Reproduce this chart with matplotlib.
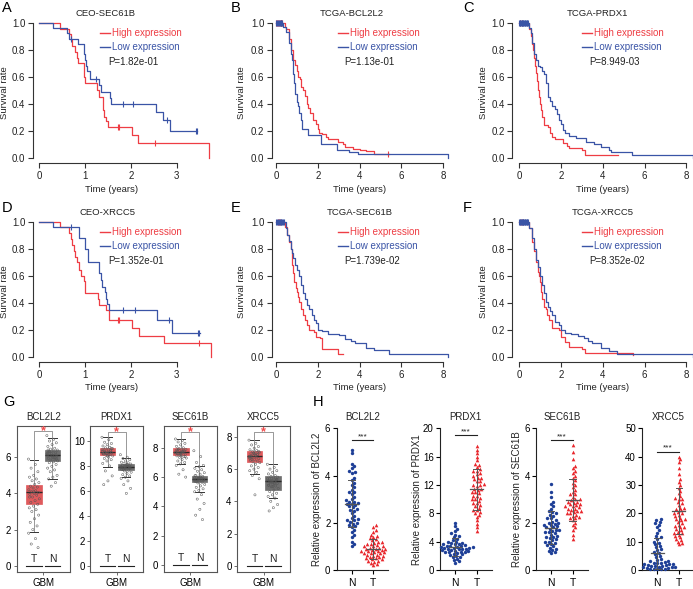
import numpy as np
import matplotlib.pyplot as plt
from matplotlib.lines import Line2D

W, H = 693, 589
plt.rcParams['font.family'] = ['Liberation Sans', 'DejaVu Sans']
plt.rcParams['axes.linewidth'] = 0.8

RED = '#ee3d44'
BLUE = '#3a54a6'
DARK = '#333333'

# ---------------- Kaplan-Meier curves (step times / survival) ----------------
start_cens = [0.02, 0.06, 0.1, 0.14, 0.18, 0.22, 0.26, 0.3]
block_cens = [0.0, 0.03, 0.06, 0.09, 0.12, 0.15, 0.18, 0.21, 0.24, 0.27, 0.3, 0.33, 0.36, 0.39, 0.42]

a_hi_t = [0, 0.45, 0.65, 0.70, 0.72, 0.78, 0.83, 0.85, 0.97, 0.98, 1.0, 1.25, 1.3, 1.38, 1.4, 1.42, 1.45, 1.5, 2.02, 2.15, 3.7]
a_hi_s = [1.0, 0.957, 0.913, 0.87, 0.826, 0.78, 0.74, 0.70, 0.65, 0.60, 0.55, 0.50, 0.45, 0.40, 0.35, 0.30, 0.27, 0.225, 0.165, 0.11, 0.0]
a_hi_c = [1.72, 1.75, 2.53]
a_lo_t = [0, 0.3, 0.6, 0.65, 0.85, 0.97, 1.0, 1.03, 1.05, 1.1, 1.3, 1.35, 1.55, 1.57, 2.55, 2.7, 2.85, 3.45]
a_lo_s = [1.0, 0.96, 0.92, 0.88, 0.84, 0.77, 0.72, 0.68, 0.64, 0.58, 0.535, 0.49, 0.44, 0.395, 0.34, 0.28, 0.2, 0.2]
a_lo_c = [0.7, 1.23, 1.82, 2.05, 2.78, 3.42, 3.45]

d_hi_t = [0, 0.45, 0.65, 0.7, 0.72, 0.75, 0.78, 0.82, 0.87, 0.9, 0.97, 1.0, 1.28, 1.3, 1.45, 1.52, 2.02, 2.18, 2.72, 3.75]
d_hi_s = [1.0, 0.96, 0.92, 0.87, 0.83, 0.78, 0.74, 0.70, 0.64, 0.60, 0.56, 0.47, 0.43, 0.38, 0.345, 0.27, 0.21, 0.153, 0.1, 0.0]
d_hi_c = [1.72, 1.75, 3.48]
d_lo_t = [0, 0.3, 0.87, 1.0, 1.07, 1.3, 1.35, 1.37, 1.43, 1.45, 1.47, 1.52, 2.57, 2.9, 3.5]
d_lo_s = [1.0, 0.96, 0.88, 0.80, 0.70, 0.617, 0.57, 0.52, 0.48, 0.43, 0.39, 0.345, 0.275, 0.173, 0.173]
d_lo_c = [0.7, 1.83, 2.08, 2.83, 3.47, 3.49]

b_hi_t = [0, 0.45, 0.5, 0.6, 0.7, 0.8, 0.9, 1.0, 1.05, 1.15, 1.2, 1.3, 1.4, 1.5, 1.55, 1.65, 1.75, 1.9, 2.0, 2.05, 2.2,
          2.4, 2.5, 2.95, 3.2, 3.3, 3.7, 4.0, 4.3, 4.7, 4.75, 5.4]
b_hi_s = [1.0, 0.97, 0.95, 0.88, 0.80, 0.72, 0.686, 0.64, 0.60, 0.58, 0.52, 0.50, 0.46, 0.40, 0.37, 0.33, 0.28, 0.25,
          0.21, 0.18, 0.175, 0.155, 0.14, 0.12, 0.10, 0.08, 0.065, 0.055, 0.05, 0.03, 0.025, 0.025]
b_hi_c = start_cens + [5.37]
b_lo_t = [0, 0.35, 0.5, 0.6, 0.7, 0.75, 0.8, 0.85, 0.9, 1.0, 1.05, 1.1, 1.2, 1.25, 1.55, 2.15, 2.9, 3.5, 3.9, 8.25]
b_lo_s = [1.0, 0.97, 0.93, 0.85, 0.77, 0.72, 0.62, 0.55, 0.47, 0.415, 0.38, 0.33, 0.28, 0.21, 0.17, 0.10, 0.06, 0.045,
          0.025, 0.0]
b_lo_c = start_cens

c_hi_t = [0, 0.5, 0.55, 0.6, 0.65, 0.7, 0.75, 0.8, 0.85, 0.9, 0.95, 1.0, 1.05, 1.1, 1.2, 1.4, 1.5, 1.6, 1.7, 2.1, 2.3,
          2.4, 3.0, 3.15, 4.75]
c_hi_s = [1.0, 0.95, 0.90, 0.84, 0.80, 0.74, 0.68, 0.63, 0.57, 0.50, 0.45, 0.40, 0.35, 0.30, 0.24, 0.225, 0.18, 0.15,
          0.135, 0.11, 0.09, 0.074, 0.057, 0.017, 0.017]
c_hi_c = [0.05, 0.15]
c_lo_t = [0, 0.5, 0.55, 0.6, 0.7, 0.8, 0.9, 1.0, 1.1, 1.2, 1.3, 1.4, 1.5, 1.6, 1.7, 1.8, 1.9, 2.0, 2.1, 2.2, 2.4, 2.7,
          3.2, 3.6, 3.9, 4.3, 4.4, 5.4, 8.3]
c_lo_s = [1.0, 0.96, 0.92, 0.85, 0.77, 0.72, 0.68, 0.67, 0.64, 0.62, 0.55, 0.45, 0.42, 0.38, 0.36, 0.32, 0.28, 0.25,
          0.205, 0.18, 0.16, 0.148, 0.12, 0.10, 0.08, 0.06, 0.044, 0.02, 0.0]
c_lo_c = block_cens

e_hi_t = [0, 0.45, 0.55, 0.6, 0.7, 0.75, 0.8, 0.85, 0.95, 1.0, 1.05, 1.1, 1.2, 1.3, 1.4, 1.5, 1.6, 1.8, 1.9, 2.1, 2.2,
          2.95, 3.2]
e_hi_s = [1.0, 0.96, 0.90, 0.85, 0.80, 0.68, 0.62, 0.555, 0.51, 0.48, 0.44, 0.407, 0.35, 0.31, 0.27, 0.235, 0.20,
          0.18, 0.148, 0.136, 0.054, 0.02, 0.02]
e_hi_c = [0.1, 0.15, 0.2]
e_lo_t = [0, 0.5, 0.55, 0.6, 0.7, 0.75, 0.8, 0.9, 1.0, 1.1, 1.2, 1.3, 1.4, 1.5, 1.6, 1.7, 1.8, 1.9, 2.0, 2.2, 2.5, 3.0,
          3.3, 3.6, 3.8, 4.3, 4.7, 5.4, 8.25]
e_lo_s = [1.0, 0.95, 0.90, 0.86, 0.80, 0.77, 0.73, 0.68, 0.642, 0.60, 0.53, 0.47, 0.43, 0.383, 0.35, 0.31, 0.27, 0.247,
          0.20, 0.19, 0.17, 0.16, 0.13, 0.12, 0.10, 0.062, 0.05, 0.02, 0.0]
e_lo_c = start_cens + [0.34, 0.38]

f_hi_t = [0, 0.5, 0.6, 0.7, 0.8, 0.9, 0.95, 1.0, 1.05, 1.1, 1.2, 1.3, 1.35, 1.45, 1.6, 1.9, 2.0, 2.2, 2.4, 3.0, 3.15, 5.45]
f_hi_s = [1.0, 0.95, 0.85, 0.78, 0.70, 0.63, 0.60, 0.555, 0.48, 0.43, 0.37, 0.35, 0.31, 0.27, 0.21, 0.197, 0.148, 0.11,
          0.074, 0.054, 0.025, 0.015]
f_hi_c = [0.1, 0.2]
f_lo_t = [0, 0.5, 0.6, 0.7, 0.8, 0.9, 1.0, 1.1, 1.2, 1.3, 1.4, 1.5, 1.6, 1.7, 1.9, 2.0, 2.2, 2.5, 2.8, 3.1, 3.3, 3.5,
          3.9, 4.3, 4.7, 8.3]
f_lo_s = [1.0, 0.95, 0.88, 0.80, 0.716, 0.667, 0.60, 0.53, 0.47, 0.407, 0.37, 0.34, 0.31, 0.26, 0.235, 0.2, 0.178,
          0.165, 0.153, 0.136, 0.12, 0.1, 0.062, 0.042, 0.02, 0.0]
f_lo_c = block_cens

km_titles = ['CEO-SEC61B', 'TCGA-BCL2L2', 'TCGA-PRDX1', 'CEO-XRCC5', 'TCGA-SEC61B', 'TCGA-XRCC5']
km_pvals = ['P=1.82e-01', 'P=1.13e-01', 'P=8.949-03', 'P=1.352e-01', 'P=1.739e-02', 'P=8.352e-02']

# ---------------- GEPIA box plots (G) ----------------
g_genes = ['BCL2L2', 'PRDX1', 'SEC61B', 'XRCC5']
# whislo, q1, med, q3, whishi
g_t_stats = [[1.89, 3.43, 4.06, 4.48, 5.83], [7.94, 8.88, 9.14, 9.41, 10.3],
             [6.87, 7.51, 7.69, 7.96, 8.6], [5.72, 6.45, 6.82, 7.13, 7.79]]
g_n_stats = [[4.8, 5.78, 6.1, 6.39, 7.04], [7.09, 7.67, 7.94, 8.13, 8.66],
             [5.0, 5.69, 5.85, 6.1, 6.76], [4.19, 4.69, 5.27, 5.58, 6.3]]
g_bracket = [7.44, 10.7, 9.1, 8.3]
g_yticks = [[0, 2, 4, 6], [0, 2, 4, 6, 8, 10], [0, 2, 4, 6, 8], [0, 2, 4, 6, 8]]

g_bcl_t = [5.9, 5.6, 5.4, 5.2, 5.0, 4.9, 4.8, 4.7, 4.6, 4.5, 4.4, 4.35, 4.3, 4.2, 4.15, 4.1, 4.05, 4.0, 3.95, 3.9,
           3.8, 3.7, 3.6, 3.5, 3.4, 3.3, 3.2, 3.1, 3.0, 2.8, 2.6, 2.4, 2.2, 2.0, 1.8, 1.5, 1.2, 1.0, 4.1, 3.8]
g_bcl_n = [7.2, 7.0, 6.9, 6.8, 6.7, 6.6, 6.5, 6.45, 6.4, 6.35, 6.3, 6.25, 6.2, 6.15, 6.1, 6.1, 6.05, 6.0, 5.95, 5.9,
           5.85, 5.8, 5.75, 5.7, 5.6, 5.5, 5.4, 5.3, 5.2, 5.0, 4.9, 4.8, 4.6, 4.4, 6.2, 6.0, 6.3, 5.9, 6.1, 6.4]
g_prdx_t = [10.3, 10.1, 9.9, 9.8, 9.7, 9.6, 9.5, 9.45, 9.4, 9.35, 9.3, 9.25, 9.2, 9.15, 9.1, 9.1, 9.05, 9.0, 8.95, 8.9,
            8.85, 8.8, 8.7, 8.6, 8.5, 8.4, 8.2, 8.0, 7.6, 7.2, 6.8, 6.5, 9.2, 9.0, 9.3, 8.9, 9.1, 9.4, 8.8, 9.0]
g_prdx_n = [8.9, 8.7, 8.6, 8.5, 8.4, 8.3, 8.25, 8.2, 8.15, 8.1, 8.05, 8.0, 7.95, 7.9, 7.9, 7.85, 7.8, 7.75, 7.7, 7.65,
            7.6, 7.5, 7.4, 7.3, 7.2, 7.1, 7.0, 6.8, 6.5, 6.2, 5.8, 7.9, 8.0, 7.8, 7.95, 8.1, 7.7, 7.85, 8.05, 7.9]
g_sec_t = [8.6, 8.5, 8.4, 8.3, 8.2, 8.1, 8.0, 7.95, 7.9, 7.85, 7.8, 7.75, 7.7, 7.7, 7.65, 7.6, 7.55, 7.5, 7.45, 7.4,
           7.35, 7.3, 7.2, 7.1, 7.0, 6.9, 6.8, 6.5, 6.2, 6.0, 7.7, 7.6, 7.8, 7.5, 7.65, 7.75, 7.9, 7.4, 7.55, 7.85]
g_sec_n = [7.8, 7.4, 7.0, 6.8, 6.7, 6.6, 6.5, 6.4, 6.3, 6.2, 6.1, 6.05, 6.0, 5.95, 5.9, 5.85, 5.8, 5.75, 5.7, 5.65,
           5.6, 5.5, 5.4, 5.3, 5.2, 5.1, 5.0, 4.8, 4.5, 4.2, 3.8, 3.4, 3.1, 5.9, 5.8, 6.0, 5.7, 5.85, 5.95, 6.1]
g_xrc_t = [7.8, 7.6, 7.5, 7.4, 7.3, 7.2, 7.15, 7.1, 7.05, 7.0, 6.95, 6.9, 6.85, 6.8, 6.75, 6.7, 6.65, 6.6, 6.55, 6.5,
           6.45, 6.4, 6.3, 6.2, 6.1, 6.0, 5.9, 5.8, 5.6, 5.4, 4.4, 6.8, 6.9, 7.0, 6.7, 6.85, 6.6, 7.1, 6.95, 6.75]
g_xrc_n = [6.3, 6.1, 6.0, 5.9, 5.8, 5.7, 5.6, 5.55, 5.5, 5.45, 5.4, 5.35, 5.3, 5.25, 5.2, 5.15, 5.1, 5.05, 5.0, 4.95,
           4.9, 4.8, 4.7, 4.6, 4.5, 4.4, 4.3, 4.2, 4.0, 3.8, 3.6, 3.4, 5.3, 5.2, 5.4, 5.1, 5.25, 5.35, 4.9, 5.0]

# ---------------- qPCR scatter (H) ----------------
h_genes = ['BCL2L2', 'PRDX1', 'SEC61B', 'XRCC5']
h_bcl_n = [5.1, 4.95, 4.5, 4.4, 4.3, 4.2, 4.15, 4.1, 3.9, 3.8, 3.7, 3.6, 3.5, 3.4, 3.3, 3.2, 3.1, 3.0, 2.95, 2.9,
           2.85, 2.8, 2.75, 2.7, 2.65, 2.6, 2.55, 2.5, 2.4, 2.3, 2.2, 2.15, 2.1, 2.05, 2.0, 1.95, 1.9, 1.85, 1.8, 1.7,
           1.6, 1.5, 1.4, 1.2, 1.1, 1.0, 2.9, 2.8, 2.1, 3.3]
h_bcl_t = [1.9, 1.8, 1.7, 1.6, 1.5, 1.45, 1.4, 1.35, 1.3, 1.25, 1.2, 1.15, 1.1, 1.05, 1.0, 1.0, 0.95, 0.95, 0.9, 0.9,
           0.85, 0.85, 0.8, 0.8, 0.75, 0.75, 0.7, 0.7, 0.65, 0.65, 0.6, 0.6, 0.55, 0.55, 0.5, 0.5, 0.45, 0.45, 0.4,
           0.4, 0.35, 0.3, 0.25, 0.2, 1.1, 1.2, 0.9, 1.0, 0.8, 0.7]
h_prdx_n = [6.7, 6.2, 5.8, 5.5, 5.2, 5.0, 4.8, 4.6, 4.4, 4.2, 4.0, 3.9, 3.8, 3.7, 3.6, 3.5, 3.4, 3.35, 3.3, 3.2, 3.1,
            3.05, 3.0, 2.95, 2.9, 2.8, 2.7, 2.65, 2.6, 2.5, 2.4, 2.3, 2.2, 2.1, 2.0, 1.9, 1.8, 1.6, 1.4, 1.2, 1.0, 3.0,
            3.2, 3.4, 2.8, 2.6, 3.6, 3.8, 2.5, 3.1]
h_prdx_t = [17.5, 17.0, 16.5, 16.0, 15.5, 15.0, 14.8, 14.5, 14.2, 14.0, 13.7, 13.5, 13.2, 13.0, 12.8, 12.5, 12.2, 12.0,
            11.8, 11.5, 11.3, 11.0, 10.8, 10.5, 10.2, 10.0, 9.8, 9.5, 9.2, 9.0, 8.8, 8.5, 8.2, 8.0, 7.8, 7.5, 7.0, 6.5,
            6.0, 5.5, 11.5, 12.0, 10.5, 11.0, 13.0, 9.5, 14.0, 8.5, 12.5, 10.0]
h_sec_n = [3.65, 3.3, 3.1, 2.9, 2.8, 2.7, 2.6, 2.5, 2.45, 2.4, 2.35, 2.3, 2.2, 2.1, 2.05, 2.0, 1.95, 1.9, 1.85, 1.8,
           1.75, 1.7, 1.65, 1.6, 1.55, 1.5, 1.45, 1.4, 1.35, 1.3, 1.25, 1.2, 1.15, 1.1, 1.05, 1.0, 0.95, 0.9, 0.85, 0.8,
           0.75, 0.7, 1.8, 1.6, 1.9, 2.2, 1.4, 1.2, 2.0, 1.7]
h_sec_t = [5.3, 5.0, 4.7, 4.4, 4.3, 4.2, 4.1, 4.0, 3.9, 3.8, 3.7, 3.6, 3.5, 3.4, 3.3, 3.2, 3.1, 3.0, 2.95, 2.9, 2.85,
           2.8, 2.75, 2.7, 2.65, 2.6, 2.55, 2.5, 2.45, 2.4, 2.35, 2.3, 2.25, 2.2, 2.1, 2.0, 1.9, 1.8, 1.7, 1.5, 1.3, 2.8,
           3.0, 2.6, 2.4, 3.2, 2.2, 2.7, 2.9, 2.5]
h_xrc_n = [18, 17.5, 17, 16.5, 16, 15, 14, 13, 12, 11.5, 11, 10, 9.5, 9, 8.5, 8, 7.5, 7, 6.5, 6, 5.5, 5, 4.5, 4, 3.5,
           3, 2.8, 2.5, 2.3, 2.1, 2.0, 1.8, 1.6, 1.5, 1.4, 1.2, 1.0, 0.9, 0.8, 0.6, 0.5, 0.4, 0.3, 0.2, 2.5, 1.5, 1.0,
           3.0, 2.0, 0.5]
h_xrc_t = [40, 39, 38, 36, 34, 32, 31, 30, 29, 28, 27, 26, 25.5, 25, 24, 23.5, 23, 22, 21.5, 21, 20.5, 20, 19.5, 19,
           18.5, 18, 17.5, 17, 16.5, 16, 15.5, 15, 14.5, 14, 13.5, 13, 12.5, 12, 11.5, 11, 10.5, 10, 9.5, 9, 20, 22, 18,
           15, 25, 13]
h_ytops = [6, 20, 6, 50]
h_yticks = [[0, 2, 4, 6], [0, 4, 8, 12, 16, 20], [0, 2, 4, 6], [0, 10, 20, 30, 40, 50]]
h_sig = [5.5, 19.0, 5.5, 41.8]

fig = plt.figure(figsize=(W / 100, H / 100), dpi=100)


def px_axes(left, top, right, bottom):
    return fig.add_axes([left / W, 1 - bottom / H, (right - left) / W, (bottom - top) / H])


def ftext(x, y, s, **kw):
    return fig.text(x / W, 1 - y / H, s, **kw)


def fline(x1, x2, y, color):
    fig.add_artist(Line2D([x1 / W, x2 / W], [1 - y / H] * 2, color=color, lw=1.0))


def surv_at(t, s, times):
    idx = np.searchsorted(np.asarray(t), np.asarray(times), side='right') - 1
    return np.asarray(s)[idx]


# ---- KM panels ----
curves = [((a_hi_t, a_hi_s, a_hi_c), (a_lo_t, a_lo_s, a_lo_c)),
          ((b_hi_t, b_hi_s, b_hi_c), (b_lo_t, b_lo_s, b_lo_c)),
          ((c_hi_t, c_hi_s, c_hi_c), (c_lo_t, c_lo_s, c_lo_c)),
          ((d_hi_t, d_hi_s, d_hi_c), (d_lo_t, d_lo_s, d_lo_c)),
          ((e_hi_t, e_hi_s, e_hi_c), (e_lo_t, e_lo_s, e_lo_c)),
          ((f_hi_t, f_hi_s, f_hi_c), (f_lo_t, f_lo_s, f_lo_c))]
# column layout: x of t=0, px per year, left, right, title x, legend x, p x, ylabel x, xlabel x, letter x
cols = [dict(x0=39.3, sc=45.8, left=33, right=215.6, xt=[0, 1, 2, 3], tx=[105, 107], lx=100, px=108, yl=5, xl=112, L=2),
        dict(x0=276, sc=20.9, left=272, right=451.6, xt=[0, 2, 4, 6, 8], tx=[352, 360], lx=338, px=344, yl=242, xl=360, L=231),
        dict(x0=519, sc=20.93, left=512.3, right=692.7, xt=[0, 2, 4, 6, 8], tx=[597, 603], lx=582, px=589, yl=483, xl=603, L=463)]
rows = [dict(y1=22.7, y0=157.7, ty=13, ly=33, py=62, xly=190, Ly=8),
        dict(y1=221.7, y0=356.7, ty=212, ly=232, py=261, xly=388, Ly=208)]
letters = ['A', 'B', 'C', 'D', 'E', 'F']

for k in range(6):
    c = cols[k % 3]
    r = rows[k // 3]
    ysc = r['y0'] - r['y1']
    ax = px_axes(c['left'], r['y1'] - 0.04 * ysc, c['right'], r['y0'] + 0.04 * ysc)
    ax.set_xlim((c['left'] - c['x0']) / c['sc'], (c['right'] - c['x0']) / c['sc'])
    ax.set_ylim(-0.04, 1.04)
    for (t, s, cen), col in zip(curves[k], [RED, BLUE]):
        ax.step(t, s, where='post', color=col, lw=0.9, clip_on=False)
        ax.plot(cen, surv_at(t, s, cen), ls='none', marker='|', ms=4.5, mew=0.8, color=col, clip_on=False)
    for sp in ['top', 'right']:
        ax.spines[sp].set_visible(False)
    ax.spines['left'].set_bounds(0, 1)
    ax.spines['bottom'].set_bounds(c['xt'][0], c['xt'][-1])
    for sp in ['left', 'bottom']:
        ax.spines[sp].set_color(DARK)
    ax.set_xticks(c['xt'])
    ax.set_yticks([0, 0.2, 0.4, 0.6, 0.8, 1.0])
    ax.set_yticklabels(['0.0', '0.2', '0.4', '0.6', '0.8', '1.0'])
    ax.tick_params(labelsize=7, length=3.5, width=0.8, color=DARK, labelcolor='#222222', pad=2)
    ftext(c['tx'][k // 3], r['ty'], km_titles[k], fontsize=6.8, ha='center', va='center', color='#222222')
    fline(c['lx'], c['lx'] + 9.5, r['ly'], RED)
    fline(c['lx'], c['lx'] + 9.5, r['ly'] + 14, BLUE)
    ftext(c['lx'] + 12.5, r['ly'], 'High expression', fontsize=7, color=RED, ha='left', va='center')
    ftext(c['lx'] + 12.5, r['ly'] + 14, 'Low expression', fontsize=7, color=BLUE, ha='left', va='center')
    ftext(c['px'], r['py'], km_pvals[k], fontsize=7, color='#222222', ha='left', va='center')
    ftext(c['yl'], (r['y0'] + r['y1']) / 2 + 2, 'Survival rate', fontsize=6.8, rotation=90, ha='center',
          va='center', color='#222222')
    ftext(c['xl'], r['xly'], 'Time (years)', fontsize=6.8, ha='center', va='center', color='#222222')
    ftext(c['L'], r['Ly'], letters[k], fontsize=10.5, ha='left', va='center')

# ---- G: box plots ----
g_points = [(g_bcl_t, g_bcl_n), (g_prdx_t, g_prdx_n), (g_sec_t, g_sec_n), (g_xrc_t, g_xrc_n)]
g_zero_px = [565.7, 565.7, 565.0, 565.7]
g_unit_px = [18.07, 12.47, 14.65, 16.1]
G_TOP, G_BOT = 426, 571.7
for i in range(4):
    left = 16.7 + 73.5 * i
    right = left + 53
    ax = px_axes(left, G_TOP, right, G_BOT)
    ax.set_ylim(-(G_BOT - g_zero_px[i]) / g_unit_px[i], (g_zero_px[i] - G_TOP) / g_unit_px[i])
    ax.set_xlim(1.5 - 26.5 / 18.4, 1.5 + 26.5 / 18.4)
    stats = []
    for st in (g_t_stats[i], g_n_stats[i]):
        stats.append(dict(whislo=st[0], q1=st[1], med=st[2], q3=st[3], whishi=st[4], fliers=[]))
    bp = ax.bxp(stats, positions=[1, 2], widths=0.85, patch_artist=True, showfliers=False,
                capwidths=0.45,
                medianprops=dict(color='#2a2a2a', lw=1.0),
                whiskerprops=dict(color='#888888', lw=0.6),
                capprops=dict(color='#333333', lw=0.7))
    for patch, fc in zip(bp['boxes'], ['#df5a5c', '#6f6f6f']):
        patch.set_facecolor(fc)
        patch.set_edgecolor(fc)
        patch.set_linewidth(0.5)
    for pos, vals in zip([1, 2], g_points[i]):
        vals = np.asarray(vals)
        jit = ((np.arange(len(vals)) * 0.618034) % 1.0 - 0.5) * 0.6
        ax.scatter(pos + jit, vals, s=2.5, facecolors='none', edgecolors='#555555', linewidths=0.35, zorder=3)
        ax.plot([pos - 0.42, pos + 0.42], [0, 0], color='#222222', lw=0.8)
        ax.annotate('T' if pos == 1 else 'N', (pos, 0), xytext=(0, 1.2), textcoords='offset points',
                    ha='center', va='bottom', fontsize=7.5, color='#222222')
    top = g_bracket[i]
    ax.plot([1, 1, 2, 2], [g_t_stats[i][4], top, top, g_n_stats[i][4]], color='#888888', lw=0.6)
    ax.text(1.5, top, '*', color='#f04a4a', fontsize=9, ha='center', va='center', fontweight='bold')
    for sp in ax.spines.values():
        sp.set_color('#555555')
        sp.set_linewidth(0.8)
    ax.set_yticks(g_yticks[i])
    ax.set_xticks([1.5])
    ax.set_xticklabels(['GBM'])
    ax.tick_params(axis='y', labelsize=7, length=2.5, width=0.6, pad=1.5, color='#555555')
    ax.tick_params(axis='x', labelsize=7, length=2.5, width=0.6, pad=2, color='#555555')
    ftext((left + right) / 2, 416.7, g_genes[i], fontsize=7, ha='center', va='center', color='#222222')
ftext(3, 402, 'G', fontsize=10.5, ha='left', va='center')

# ---- H: scatter with mean +/- SD ----
h_points = [(h_bcl_n, h_bcl_t), (h_prdx_n, h_prdx_t), (h_sec_n, h_sec_t), (h_xrc_n, h_xrc_t)]
h_npx = [351.7, 455, 551, 657.3]
h_ylab_x = [317, 417, 517, None]
H_TOP, H_ZERO = 428.3, 570
NAVY = '#1e3f97'
HRED = '#e8262c'


def swarm(ax, xc, vals, diam_px):
    pts = ax.transData.transform(np.column_stack([np.full(len(vals), xc), vals]))
    ys = pts[:, 1]
    xpx = ax.transData.transform([[xc, 0], [xc + 1, 0]])
    unit = xpx[1, 0] - xpx[0, 0]
    cands = [0.0]
    for kk in range(1, 40):
        cands += [kk * diam_px / 2.5, -kk * diam_px / 2.5]
    placed = []
    offs = np.zeros(len(vals))
    for idx in np.argsort(ys):
        y = ys[idx]
        for cnd in cands:
            if all((cnd - px_) ** 2 + (y - py_) ** 2 >= diam_px ** 2 for px_, py_ in placed):
                offs[idx] = cnd
                placed.append((cnd, y))
                break
    return xc + offs / unit


for i in range(4):
    npx = h_npx[i]
    tpx = npx + 21.5
    left = npx - 15
    right = tpx + 15
    ax = px_axes(left, H_TOP, right, H_ZERO)
    ax.set_xlim(1 - 15 / 21.5, 2 + 15 / 21.5)
    ax.set_ylim(0, h_ytops[i])
    for pos, vals, col, mk in zip([1, 2], h_points[i], [NAVY, HRED], ['o', '^']):
        vals = np.asarray(vals, dtype=float)
        xs = swarm(ax, pos, vals, 3.0)
        ax.scatter(xs, vals, s=6 if mk == 'o' else 7, marker=mk, color=col, linewidths=0, clip_on=False, zorder=3)
        m = vals.mean()
        sd = vals.std(ddof=1)
        ax.plot([pos - 0.3, pos + 0.3], [m, m], color='#555555', lw=0.9, zorder=4)
        ax.plot([pos, pos], [m - sd, m + sd], color='#555555', lw=0.7, zorder=4)
        for yv in (m - sd, m + sd):
            ax.plot([pos - 0.15, pos + 0.15], [yv, yv], color='#555555', lw=0.7, zorder=4)
    ax.plot([1, 2], [h_sig[i], h_sig[i]], color='#222222', lw=0.8, clip_on=False)
    ax.text(1.5, h_sig[i], '***', fontsize=6, ha='center', va='bottom', color='#222222')
    for sp in ['top', 'right']:
        ax.spines[sp].set_visible(False)
    for sp in ['left', 'bottom']:
        ax.spines[sp].set_color('#222222')
    ax.set_yticks(h_yticks[i])
    ax.set_xticks([1, 2])
    ax.set_xticklabels(['N', 'T'])
    ax.tick_params(axis='y', labelsize=7, length=3, width=0.8, pad=1.5)
    ax.tick_params(axis='x', labelsize=7.5, length=3, width=0.8, pad=3)
    ftext((npx + tpx) / 2, 416.7, h_genes[i], fontsize=7, ha='center', va='center', color='#222222')
    if h_ylab_x[i] is not None:
        ftext(h_ylab_x[i], (H_TOP + H_ZERO) / 2, 'Relative expression of ' + h_genes[i], fontsize=7,
              rotation=90, ha='center', va='center', color='#222222')
ftext(313, 402, 'H', fontsize=10.5, ha='left', va='center')

fig.savefig('out.png', dpi=100)
